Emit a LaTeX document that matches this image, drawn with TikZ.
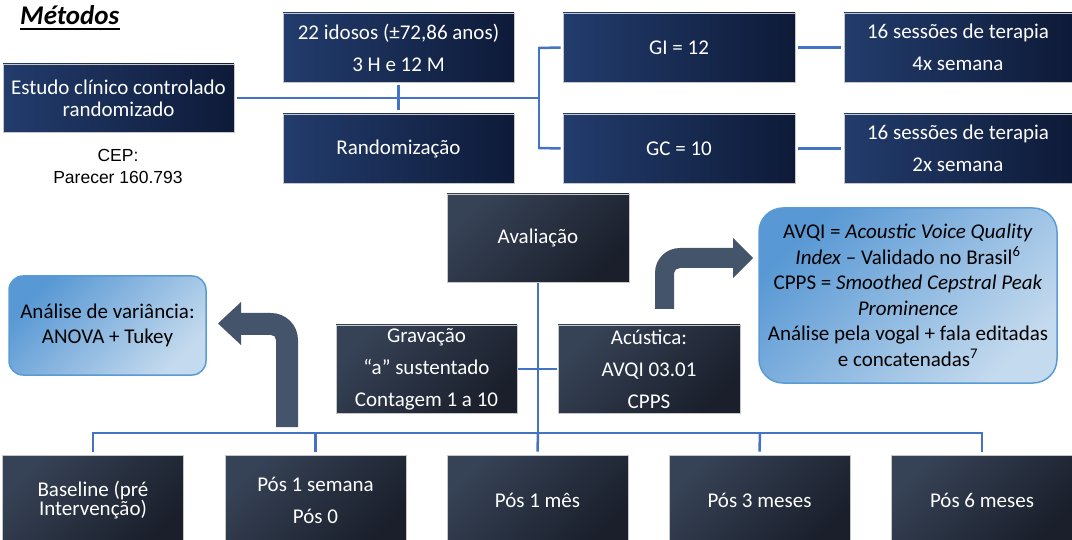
\documentclass[tikz,border=0pt]{standalone}
\usepackage{fontspec}
\setmainfont{Carlito}
\newfontfamily\arialf{Liberation Sans}
\definecolor{navyL}{RGB}{34,60,108}
\definecolor{navyR}{RGB}{14,26,56}
\definecolor{darkTL}{RGB}{54,66,86}
\definecolor{darkBR}{RGB}{26,31,43}
\definecolor{blueTL}{RGB}{88,152,212}
\definecolor{blueBR}{RGB}{196,218,238}
\definecolor{blueB}{RGB}{91,155,213}
\definecolor{lineB}{RGB}{68,114,196}
\definecolor{arrowc}{RGB}{68,84,106}
\begin{document}
\begin{tikzpicture}[x=1pt,y=-1pt,
  box/.style={draw=gray!45, line width=0.6pt, text=white, inner sep=0pt, align=center,
              font=\fontsize{21}{32}\selectfont},
  navy/.style={box, left color=navyL, right color=navyR},
  dark/.style={box, top color=darkTL, bottom color=darkBR, shading angle=45},
  bluebox/.style={draw=blueB, line width=1.5pt, rounded corners=14pt, top color=blueTL,
              bottom color=blueBR, shading angle=45, text=black, align=center, inner sep=0pt,
              font=\fontsize{21}{25.5}\selectfont},
  conn/.style={draw=lineB, line width=2.5pt},
  bigarrow/.style={fill=arrowc}
]
\useasboundingbox (0,0) rectangle (1072,540);
\fill[white] (0,0) rectangle (1072,540);

% title
\node[anchor=base west, inner sep=0pt, font=\fontsize{27}{30}\selectfont\bfseries\itshape] (title) at (20,25) {Métodos};
\draw[line width=1.8pt] ([yshift=-4pt]title.base west) -- ([yshift=-4pt]title.base east);

% top row
\node[navy, minimum width=231pt, minimum height=68pt, font=\fontsize{21}{22}\selectfont] (estudo) at (118.5,98) {Estudo clínico controlado\\randomizado};
\node[inner sep=0pt, align=center, font=\arialf\fontsize{17.5}{22}\selectfont] (cep) at (118,166) {CEP:\\Parecer 160.793};
\node[navy, minimum width=231pt, minimum height=69pt] (idosos) at (398.5,47.5) {22 idosos (±72,86 anos)\\3 H e 12 M};
\node[navy, minimum width=231pt, minimum height=69pt] (rand) at (398.5,148.5) {Randomização};
\node[navy, minimum width=232pt, minimum height=69pt] (gi) at (679,47.5) {GI = 12};
\node[navy, minimum width=232pt, minimum height=69pt] (gc) at (679,148.5) {GC = 10};
\node[navy, minimum width=228pt, minimum height=69pt] (s1) at (958,47.5) {16 sessões de terapia\\4x semana};
\node[navy, minimum width=228pt, minimum height=69pt] (s2) at (958,148.5) {16 sessões de terapia\\2x semana};

\coordinate (j1) at (539,98);
\coordinate (jgi) at (539,48);
\coordinate (jgc) at (539,148);
\draw[conn] ([xshift=3pt]estudo.east) -- (j1);
\draw[conn] ([yshift=-3pt]idosos.south) -- ([yshift=4pt]rand.north);
\draw[conn] (jgi) -- ([xshift=-2pt]gi.west);
\draw[conn] (jgc) -- ([xshift=-2pt]gc.west);
\draw[conn] ([yshift=1.25pt]jgi) -- ([yshift=-1.25pt]jgc);
\draw[conn] ([xshift=3pt]gi.east) -- ([xshift=-3pt]s1.west);
\draw[conn] ([xshift=3pt]gc.east) -- ([xshift=-3pt]s2.west);

% middle
\node[dark, minimum width=182pt, minimum height=88pt] (aval) at (538,238) {Avaliação};
\node[dark, minimum width=181pt, minimum height=88pt] (grav) at (426.5,369) {Gravação\\“a” sustentado\\Contagem 1 a 10};
\node[dark, minimum width=182pt, minimum height=88pt] (acus) at (649,369) {Acústica:\\AVQI 03.01\\CPPS};

\node[bluebox, minimum width=197pt, minimum height=99pt] (anova) at (107.5,325.5) {Análise de variância:\\ANOVA + Tukey};
\node[bluebox, rounded corners=24pt, minimum width=298pt, minimum height=175pt] (avqi) at (908,295.5)
  {AVQI = \textit{Acoustic Voice Quality}\\\textit{Index} – Validado no Brasil\textsuperscript{6}\\CPPS = \textit{Smoothed Cepstral Peak}\\\textit{Prominence}\\Análise pela vogal + fala editadas\\e concatenadas\textsuperscript{7}};

% big bent arrows
\fill[bigarrow] (298,427) -- (298,340) .. controls (298,325) and (286,313) .. (271,313)
  -- (241,313) -- (241,302) -- (218,323.5) -- (241,345) -- (241,335) -- (271,335)
  .. controls (274,335) and (276,337) .. (276,340) -- (276,427) -- cycle;
\fill[bigarrow] (655,309) -- (655,273) .. controls (655,259) and (666,248) .. (680,248)
  -- (733,248) -- (733,238) -- (753,258) -- (733,278) -- (733,268) -- (680,268)
  .. controls (677,268) and (674,270) .. (674,273) -- (674,309) -- cycle;

% bottom row
\node[dark, minimum width=181pt, minimum height=90pt, font=\fontsize{21}{19}\selectfont] (b1) at (93,500) {Baseline (pré\\Intervenção)};
\node[dark, minimum width=181pt, minimum height=90pt] (b2) at (315.5,500) {Pós 1 semana\\Pós 0};
\node[dark, minimum width=181pt, minimum height=90pt] (b3) at (537.5,500) {Pós 1 mês};
\node[dark, minimum width=181pt, minimum height=90pt] (b4) at (759.5,500) {Pós 3 meses};
\node[dark, minimum width=181pt, minimum height=90pt] (b5) at (982,500) {Pós 6 meses};

\coordinate (bus1) at (93,433);
\coordinate (bus2) at (315.5,433);
\coordinate (bus3) at (538,433);
\coordinate (bus4) at (760,433);
\coordinate (bus5) at (982,433);
\coordinate (mid) at (538,370);
\draw[conn] ([yshift=-1pt]aval.south) -- (bus3);
\draw[conn] ([xshift=1pt]grav.east) -- ([xshift=-1pt]acus.west);
\draw[conn] ([yshift=1.25pt]bus1) -- (bus1) -- (bus5) -- ([yshift=1.25pt]bus5);
\foreach \i in {1,...,5} {
  \draw[conn] (bus\i) -- ([yshift=3pt]b\i.north);
}
\end{tikzpicture}
\end{document}
